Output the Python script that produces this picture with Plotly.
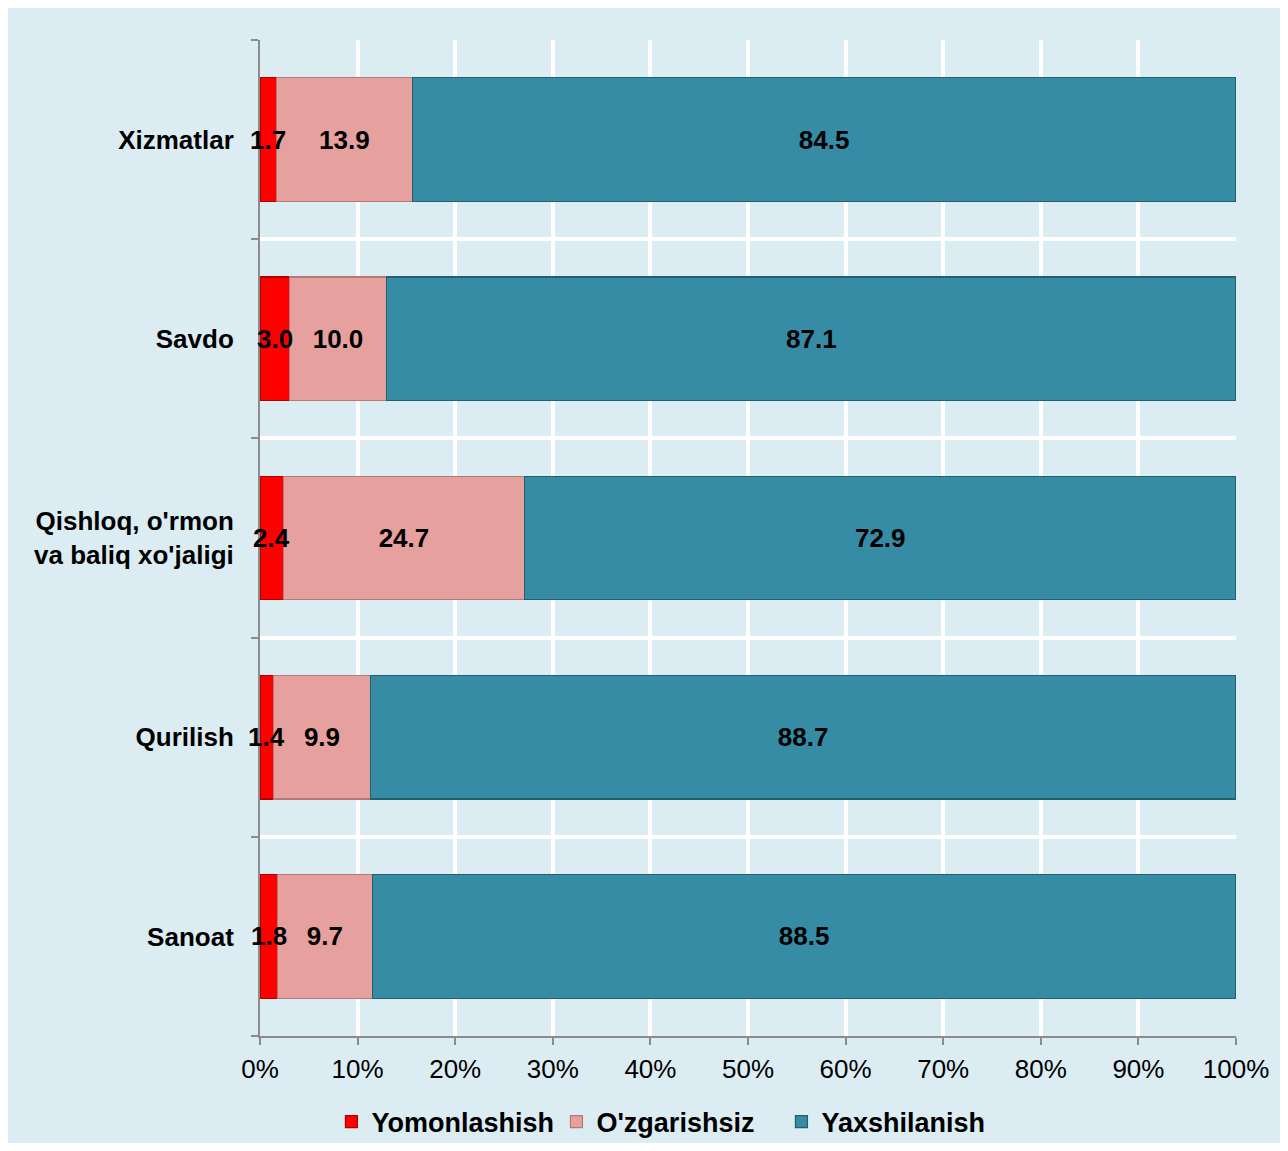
import plotly.graph_objects as go

# Categories (bottom to top, as plotly draws them)
categories = [
    "Sanoat",
    "Qurilish",
    "Qishloq, o'rmon<br>va baliq xo'jaligi",
    "Savdo",
    "Xizmatlar",
]

# Series values (%)
yomonlashish = [1.8, 1.4, 2.4, 3.0, 1.7]
ozgarishsiz = [9.7, 9.9, 24.7, 10.0, 13.9]
yaxshilanish = [88.5, 88.7, 72.9, 87.1, 84.5]

x_ticks = [0, 10, 20, 30, 40, 50, 60, 70, 80, 90, 100]
x_ticklabels = [f"{v}%" for v in x_ticks]

BG = "#DBEDF3"
AXIS = "#8C8C8C"
FONT = "Liberation Sans, Arial, sans-serif"
LABEL_FONT = dict(family=FONT, size=26, color="black", weight="bold")

series = [
    ("Yomonlashish", yomonlashish, "#FF0000", "#B00000"),
    ("O'zgarishsiz", ozgarishsiz, "#E6A19F", "#B57876"),
    ("Yaxshilanish", yaxshilanish, "#378CA5", "#22606F"),
]

fig = go.Figure()
for i, (name, vals, color, edge) in enumerate(series):
    fig.add_trace(
        go.Bar(
            name=name,
            y=categories,
            x=vals,
            orientation="h",
            text=vals,
            texttemplate="%{text:.1f}" if i > 0 else "",
            textposition="inside" if i > 0 else "none",
            insidetextanchor="middle",
            constraintext="none",
            textangle=0,
            textfont=LABEL_FONT,
            marker=dict(color=color, line=dict(color=edge, width=1.2)),
            hoverinfo="skip",
        )
    )

# Labels of the thin red segments overflow the bars, so draw them on top
totals = [a + b + c for a, b, c in zip(yomonlashish, ozgarishsiz, yaxshilanish)]
for cat, v, t in zip(categories, yomonlashish, totals):
    fig.add_annotation(
        x=v / t * 100 / 2,
        y=cat,
        text=f"{v:.1f}",
        showarrow=False,
        xanchor="center",
        yanchor="middle",
        font=LABEL_FONT,
    )

fig.update_layout(
    barmode="stack",
    barnorm="percent",
    bargap=0.38,
    width=1273,
    height=1135,
    margin=dict(l=252, r=45, t=32, b=107, autoexpand=False),
    paper_bgcolor=BG,
    plot_bgcolor=BG,
    font=dict(family=FONT, color="black"),
    legend=dict(
        orientation="h",
        x=0.419,
        xanchor="center",
        yref="container",
        y=0.0185,
        yanchor="middle",
        font=dict(family=FONT, size=27, color="black", weight="bold"),
        itemwidth=30,
        entrywidth=180,
        traceorder="normal",
        bgcolor="rgba(0,0,0,0)",
    ),
    xaxis=dict(
        range=[0, 100],
        tickvals=x_ticks,
        ticktext=x_ticklabels,
        tickfont=dict(family=FONT, size=26, color="black"),
        showgrid=True,
        gridcolor="white",
        gridwidth=4,
        zeroline=False,
        showline=True,
        linecolor=AXIS,
        linewidth=2,
        ticks="outside",
        ticklen=7,
        tickwidth=2,
        tickcolor=AXIS,
        ticklabelstandoff=2,
        fixedrange=True,
    ),
    yaxis=dict(
        type="category",
        tickson="boundaries",
        showgrid=True,
        gridcolor="white",
        gridwidth=4,
        showline=True,
        linecolor=AXIS,
        linewidth=2,
        ticks="outside",
        ticklen=7,
        tickwidth=2,
        tickcolor=AXIS,
        ticklabelstandoff=19,
        tickfont=LABEL_FONT,
        fixedrange=True,
    ),
)

fig.write_html("out.html")
